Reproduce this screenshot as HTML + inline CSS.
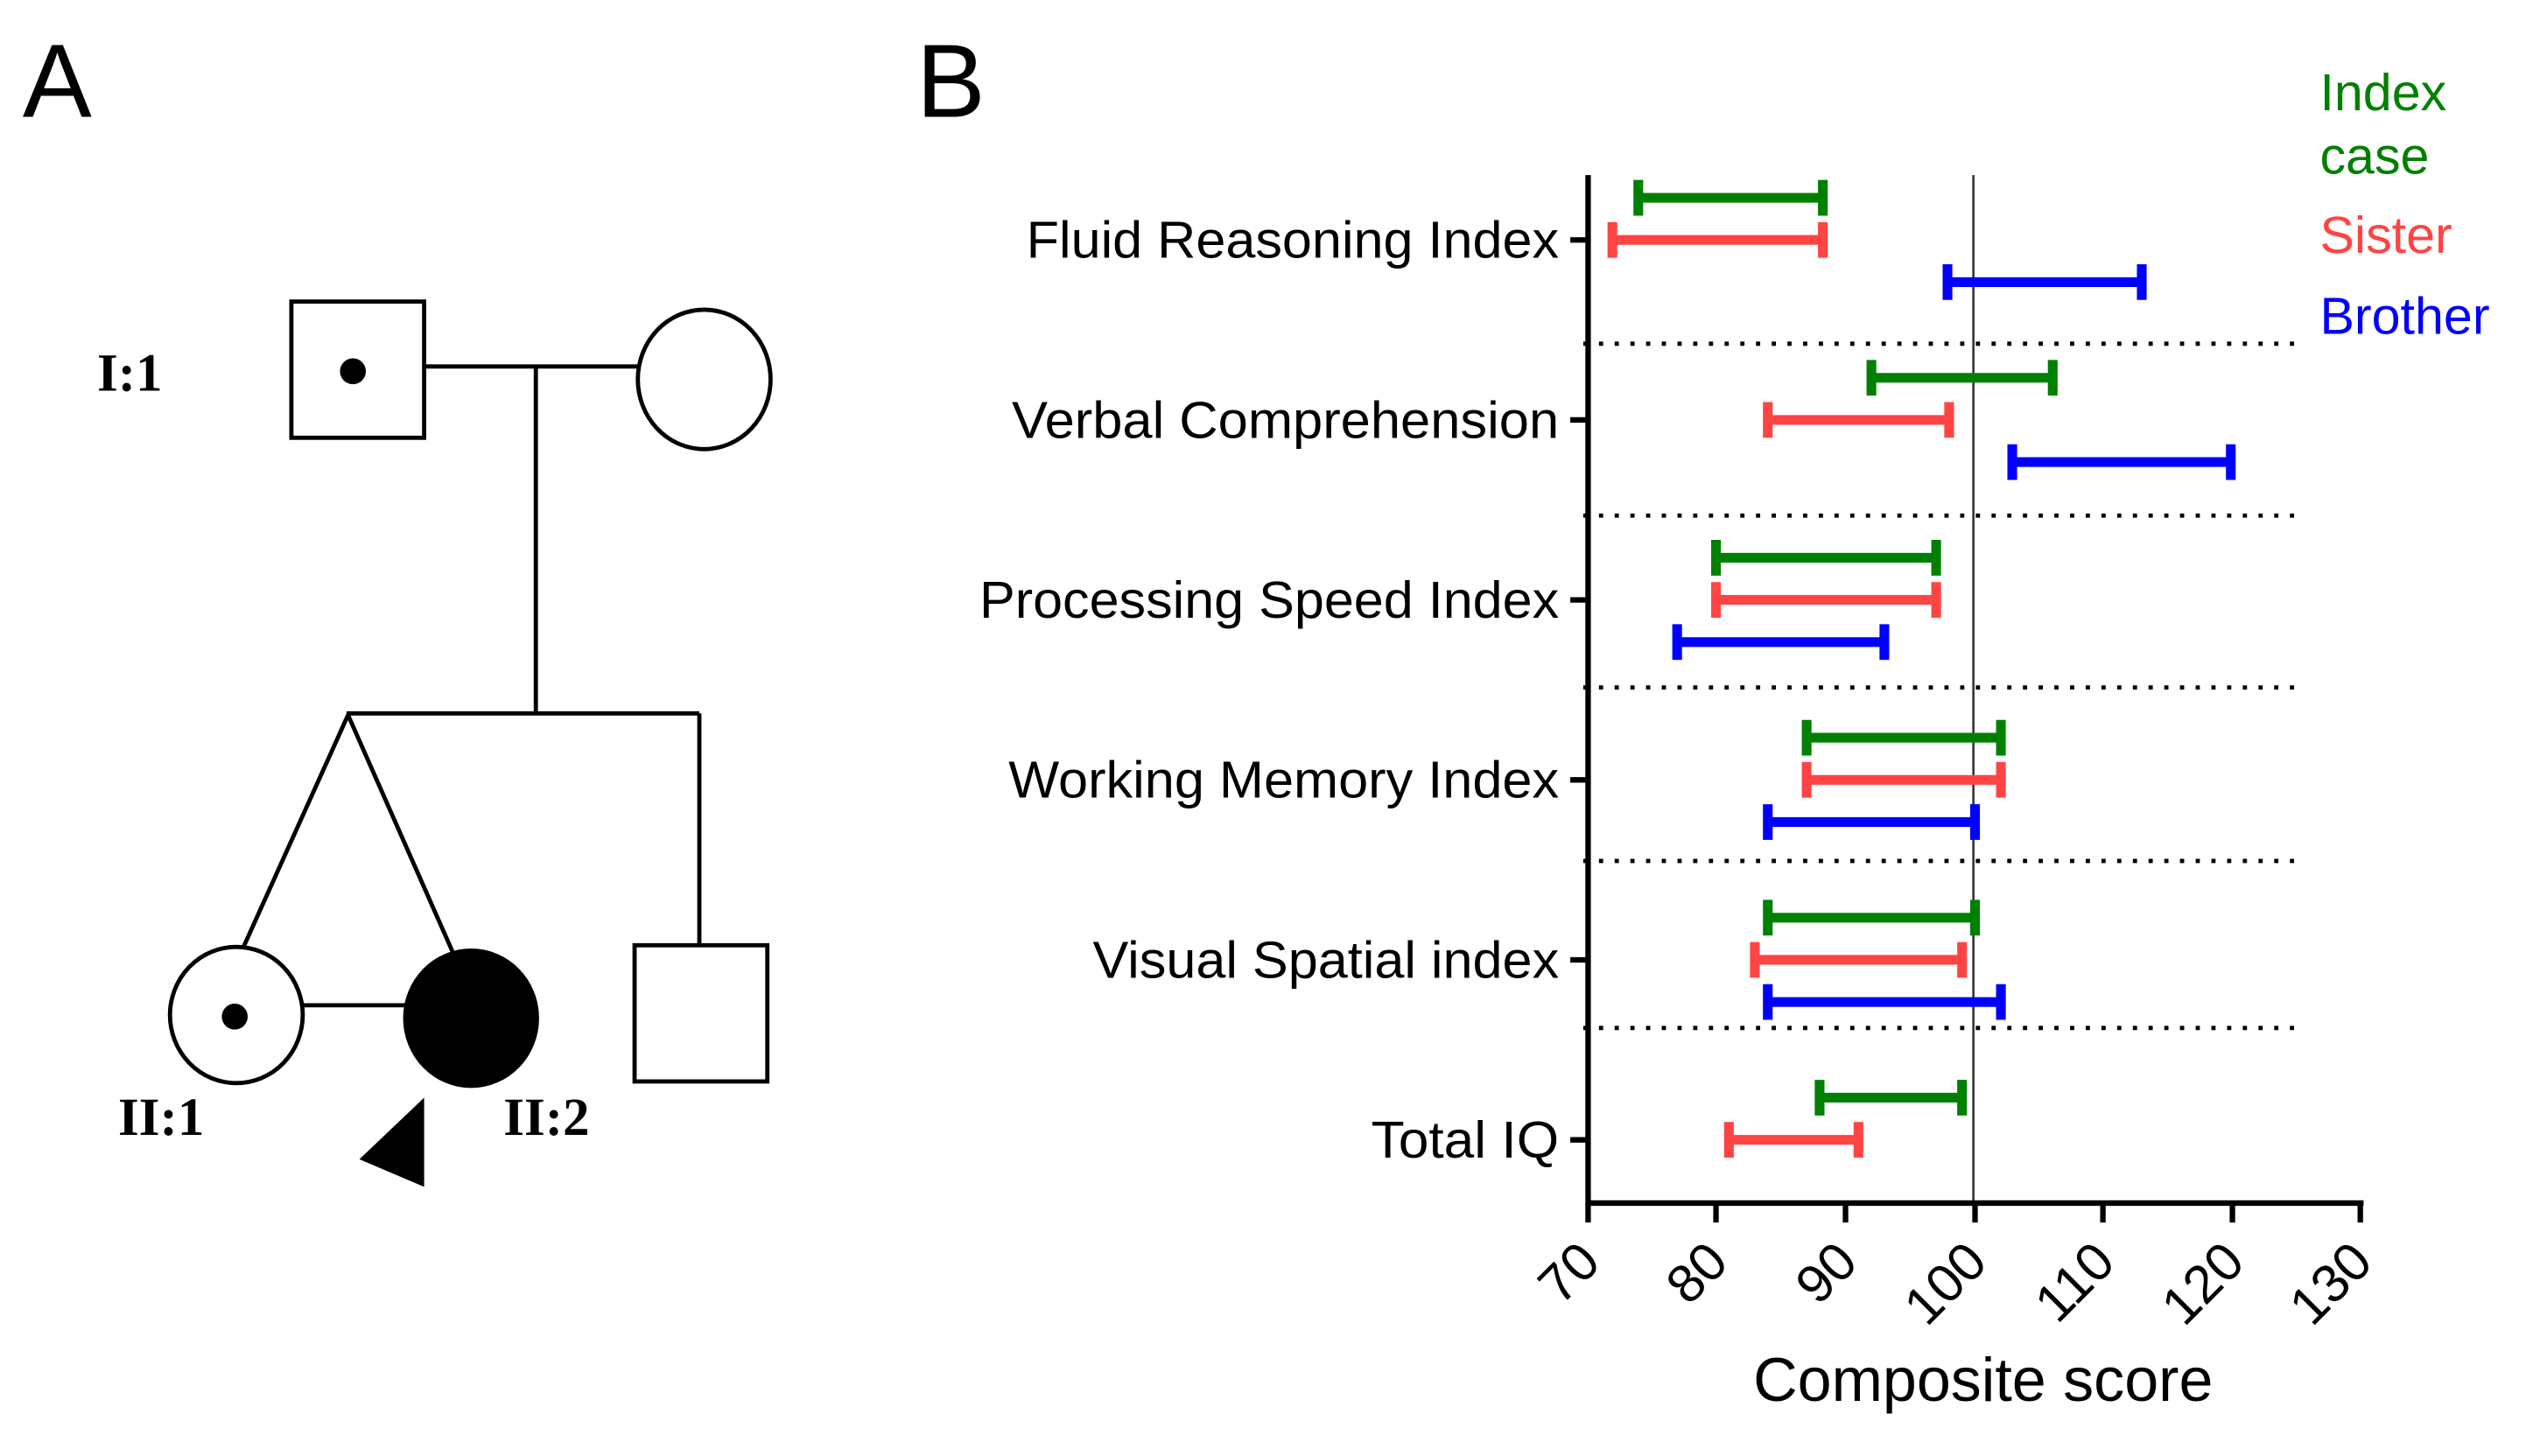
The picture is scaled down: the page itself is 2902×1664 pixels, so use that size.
<!DOCTYPE html>
<html><head><meta charset="utf-8"><style>html,body{margin:0;padding:0;background:#fff}svg{display:block}</style></head>
<body>
<svg width="2902" height="1664" viewBox="0 0 1569 898" preserveAspectRatio="none" xmlns="http://www.w3.org/2000/svg">
<rect width="1569" height="898" fill="#fff"/>
<!-- Panel A -->
<text x="14" y="72" font-family="Liberation Sans, sans-serif" font-size="64">A</text>
<g stroke="#000" stroke-width="2.6" fill="none">
<rect x="180" y="186" width="82" height="84"/>
<line x1="262" y1="226" x2="395" y2="226"/>
<line x1="331" y1="226" x2="331" y2="440"/>
<ellipse cx="435" cy="234" rx="41" ry="43"/>
<line x1="214" y1="440" x2="432" y2="440"/>
<line x1="432" y1="440" x2="432" y2="584"/>
<line x1="215" y1="441" x2="150" y2="585"/>
<line x1="215" y1="441" x2="280" y2="588"/>
<rect x="392" y="583" width="82" height="84"/>
<ellipse cx="146" cy="626" rx="41" ry="42"/>
<line x1="187" y1="620" x2="252" y2="620"/>
</g>
<ellipse cx="218" cy="229" rx="8" ry="8" fill="#000"/>
<ellipse cx="145" cy="627" rx="8" ry="8" fill="#000"/>
<ellipse cx="291" cy="628" rx="42" ry="43" fill="#000"/>
<polygon points="222,715 262,677 262,732" fill="#000"/>
<g font-family="Liberation Serif, serif" font-weight="bold" font-size="33">
<text x="60" y="241">I:1</text>
<text x="73" y="700">II:1</text>
<text x="311" y="700">II:2</text>
</g>
<!-- Panel B -->
<text x="566" y="72" font-family="Liberation Sans, sans-serif" font-size="64">B</text>
<g font-family="Liberation Sans, sans-serif" font-size="32">
<text x="1433" y="68" fill="#008000">Index</text>
<text x="1433" y="107" fill="#008000">case</text>
<text x="1433" y="156" fill="#ff4444">Sister</text>
<text x="1433" y="206" fill="#0000ff">Brother</text>
</g>
<g stroke="#000" stroke-width="2.6" stroke-dasharray="2.6 7.1" stroke-linecap="butt">
<line x1="978" y1="212" x2="1420" y2="212"/>
<line x1="978" y1="318" x2="1420" y2="318"/>
<line x1="978" y1="424" x2="1420" y2="424"/>
<line x1="978" y1="531" x2="1420" y2="531"/>
<line x1="978" y1="634" x2="1420" y2="634"/>
</g>
<line x1="1219" y1="108" x2="1219" y2="742" stroke="#333" stroke-width="1.4"/>
<g stroke="#000" stroke-width="3.4">
<line x1="981" y1="108" x2="981" y2="743"/>
<line x1="980" y1="742" x2="1460" y2="742"/>
<line x1="981" y1="742" x2="981" y2="754"/>
<line x1="1060" y1="742" x2="1060" y2="754"/>
<line x1="1140" y1="742" x2="1140" y2="754"/>
<line x1="1220" y1="742" x2="1220" y2="754"/>
<line x1="1299" y1="742" x2="1299" y2="754"/>
<line x1="1379" y1="742" x2="1379" y2="754"/>
<line x1="1458" y1="742" x2="1458" y2="754"/>
<line x1="970" y1="148" x2="981" y2="148"/>
<line x1="970" y1="259" x2="981" y2="259"/>
<line x1="970" y1="370" x2="981" y2="370"/>
<line x1="970" y1="481" x2="981" y2="481"/>
<line x1="970" y1="592" x2="981" y2="592"/>
<line x1="970" y1="703" x2="981" y2="703"/>
</g>
<g font-family="Liberation Sans, sans-serif" font-size="32" text-anchor="end">
<text x="963" y="159" textLength="329" lengthAdjust="spacingAndGlyphs">Fluid Reasoning Index</text>
<text x="963" y="270" textLength="338" lengthAdjust="spacingAndGlyphs">Verbal Comprehension</text>
<text x="963" y="381" textLength="358" lengthAdjust="spacingAndGlyphs">Processing Speed Index</text>
<text x="963" y="492" textLength="340" lengthAdjust="spacingAndGlyphs">Working Memory Index</text>
<text x="963" y="603" textLength="288" lengthAdjust="spacingAndGlyphs">Visual Spatial index</text>
<text x="963" y="714" textLength="116" lengthAdjust="spacingAndGlyphs">Total IQ</text>
</g>
<g font-family="Liberation Sans, sans-serif" font-size="33" text-anchor="end">
<text transform="translate(990,780) rotate(-45)">70</text>
<text transform="translate(1069,780) rotate(-45)">80</text>
<text transform="translate(1149,780) rotate(-45)">90</text>
<text transform="translate(1229,780) rotate(-45)">100</text>
<text transform="translate(1308,780) rotate(-45)">110</text>
<text transform="translate(1388,780) rotate(-45)">120</text>
<text transform="translate(1467,780) rotate(-45)">130</text>
</g>
<text x="1225" y="864" font-family="Liberation Sans, sans-serif" font-size="38" text-anchor="middle" textLength="284" lengthAdjust="spacingAndGlyphs">Composite score</text>
<!-- bars -->
<g stroke-width="6">
<g stroke="#008000">
<path d="M1012 122H1126M1012 111V133M1126 111V133"/>
<path d="M1156 233H1268M1156 222V244M1268 222V244"/>
<path d="M1060 344H1196M1060 333V355M1196 333V355"/>
<path d="M1116 455H1236M1116 444V466M1236 444V466"/>
<path d="M1092 566H1220M1092 555V577M1220 555V577"/>
<path d="M1124 677H1212M1124 666V688M1212 666V688"/>
</g>
<g stroke="#ff4444">
<path d="M996 148H1126M996 137V159M1126 137V159"/>
<path d="M1092 259H1204M1092 248V270M1204 248V270"/>
<path d="M1060 370H1196M1060 359V381M1196 359V381"/>
<path d="M1116 481H1236M1116 470V492M1236 470V492"/>
<path d="M1084 592H1212M1084 581V603M1212 581V603"/>
<path d="M1068 703H1148M1068 692V714M1148 692V714"/>
</g>
<g stroke="#0000ff">
<path d="M1203 174H1323M1203 163V185M1323 163V185"/>
<path d="M1243 285H1378M1243 274V296M1378 274V296"/>
<path d="M1036 396H1164M1036 385V407M1164 385V407"/>
<path d="M1092 507H1220M1092 496V518M1220 496V518"/>
<path d="M1092 618H1236M1092 607V629M1236 607V629"/>
</g>
</g>
</svg>
</body></html>
